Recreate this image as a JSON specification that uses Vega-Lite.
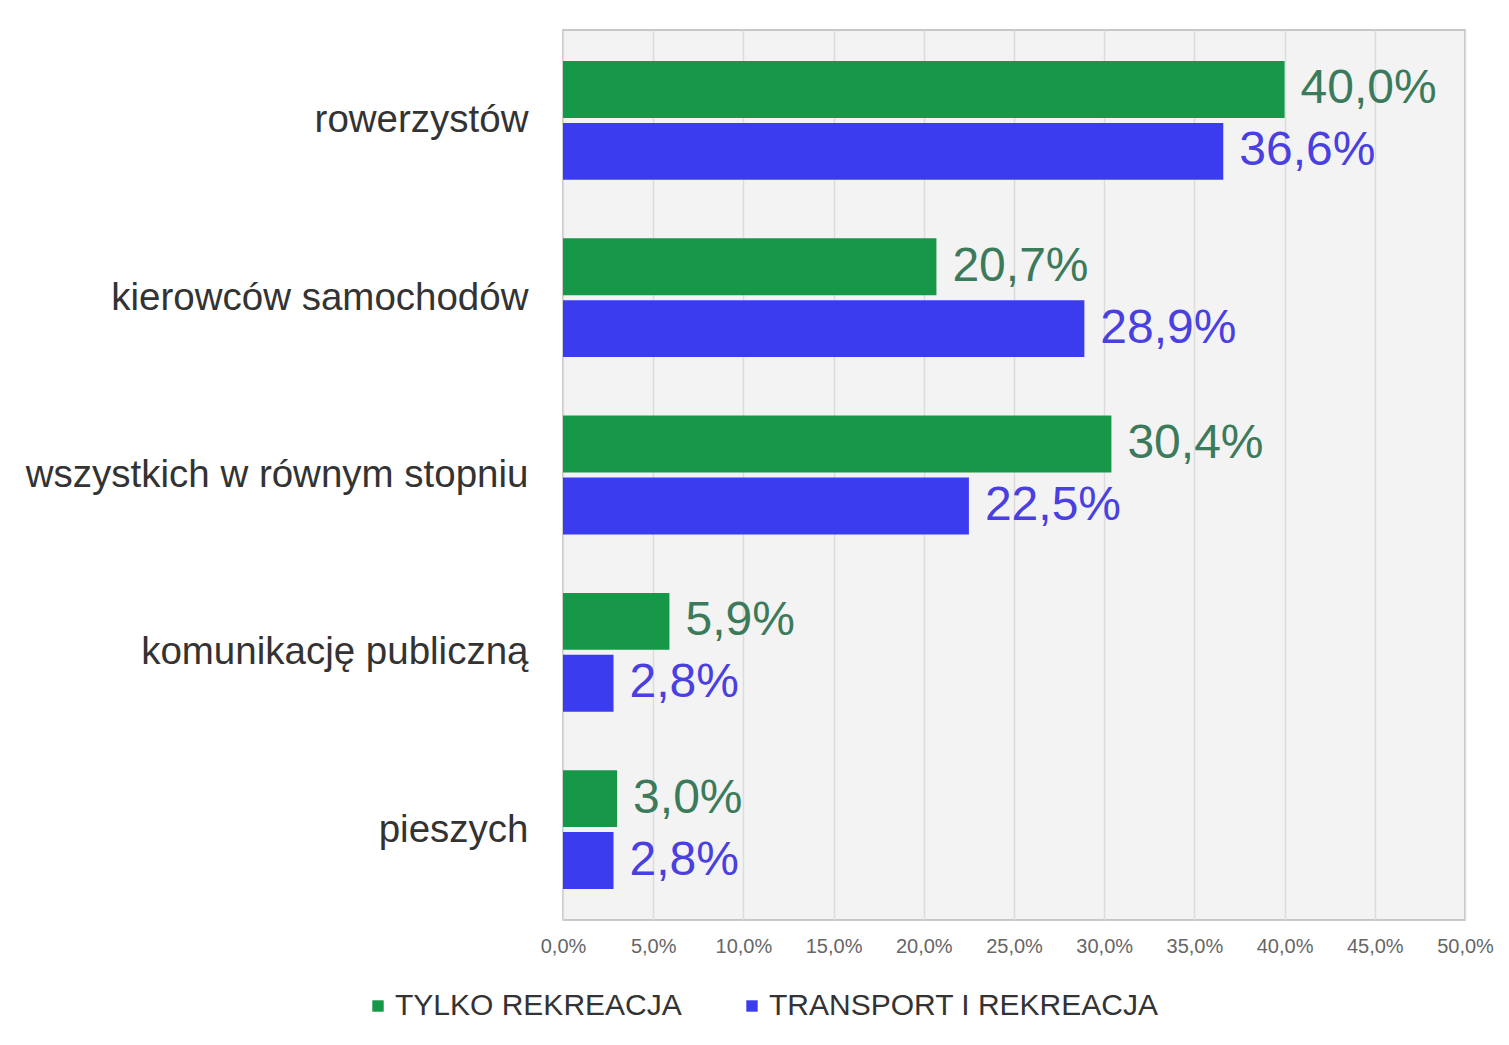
{
  "$schema": "https://vega.github.io/schema/vega-lite/v6.json",
  "autosize": {"type": "none"},
  "width": 902,
  "height": 890,
  "padding": {"left": 563, "top": 30, "right": 44, "bottom": 125},
  "background": "white",
  "config": {
    "locale": {"number": {"decimal": ",", "thousands": " ", "grouping": [3], "currency": ["", " zł"]}},
    "font": "Liberation Sans",
    "view": {"fill": "#f3f3f3", "stroke": "#b8b8b8", "strokeWidth": 1.5}
  },
  "data": {
    "values": [
      {"kategoria": "rowerzystów", "seria": "TYLKO REKREACJA", "wartosc": 0.400},
      {"kategoria": "rowerzystów", "seria": "TRANSPORT I REKREACJA", "wartosc": 0.366},
      {"kategoria": "kierowców samochodów", "seria": "TYLKO REKREACJA", "wartosc": 0.207},
      {"kategoria": "kierowców samochodów", "seria": "TRANSPORT I REKREACJA", "wartosc": 0.289},
      {"kategoria": "wszystkich w równym stopniu", "seria": "TYLKO REKREACJA", "wartosc": 0.304},
      {"kategoria": "wszystkich w równym stopniu", "seria": "TRANSPORT I REKREACJA", "wartosc": 0.225},
      {"kategoria": "komunikację publiczną", "seria": "TYLKO REKREACJA", "wartosc": 0.059},
      {"kategoria": "komunikację publiczną", "seria": "TRANSPORT I REKREACJA", "wartosc": 0.028},
      {"kategoria": "pieszych", "seria": "TYLKO REKREACJA", "wartosc": 0.030},
      {"kategoria": "pieszych", "seria": "TRANSPORT I REKREACJA", "wartosc": 0.028}
    ]
  },
  "encoding": {
    "y": {
      "field": "kategoria",
      "type": "nominal",
      "sort": ["rowerzystów", "kierowców samochodów", "wszystkich w równym stopniu", "komunikację publiczną", "pieszych"],
      "scale": {"paddingInner": 0.33, "paddingOuter": 0.175},
      "axis": {"title": null, "ticks": false, "domain": false, "labelFontSize": 38.5, "labelColor": "#333333", "labelPadding": 35, "labelLimit": 600}
    },
    "yOffset": {
      "field": "seria",
      "type": "nominal",
      "sort": ["TYLKO REKREACJA", "TRANSPORT I REKREACJA"],
      "scale": {"paddingInner": 0.08}
    },
    "x": {
      "field": "wartosc",
      "type": "quantitative",
      "scale": {"domain": [0, 0.5], "nice": false},
      "axis": {
        "title": null,
        "values": [0, 0.05, 0.1, 0.15, 0.2, 0.25, 0.3, 0.35, 0.4, 0.45, 0.5],
        "format": ".1%",
        "labelFontSize": 20,
        "labelColor": "#666666",
        "labelPadding": 16,
        "ticks": false,
        "domain": false,
        "grid": true,
        "gridColor": "#dcdcdc",
        "gridWidth": 1.5,
        "labelFlush": false
      }
    }
  },
  "layer": [
    {
      "mark": {"type": "bar"},
      "encoding": {
        "color": {
          "field": "seria",
          "type": "nominal",
          "sort": ["TYLKO REKREACJA", "TRANSPORT I REKREACJA"],
          "scale": {"domain": ["TYLKO REKREACJA", "TRANSPORT I REKREACJA"], "range": ["#169848", "#3b3bf0"]},
          "legend": {
            "title": null,
            "orient": "none",
            "legendX": -200,
            "legendY": 961,
            "direction": "horizontal",
            "symbolType": "square",
            "symbolSize": 130,
            "labelFontSize": 30,
            "labelLimit": 600,
            "labelColor": "#333333",
            "columnPadding": 55,
            "labelOffset": 2
          }
        }
      }
    },
    {
      "mark": {"type": "text", "align": "left", "baseline": "middle", "dx": 16, "fontSize": 48},
      "encoding": {
        "text": {"field": "wartosc", "type": "quantitative", "format": ".1%"},
        "color": {
          "field": "seria",
          "type": "nominal",
          "scale": {"domain": ["TYLKO REKREACJA", "TRANSPORT I REKREACJA"], "range": ["#3c7a5c", "#4a3fe0"]},
          "legend": null
        }
      }
    }
  ],
  "resolve": {"scale": {"color": "independent"}}
}
